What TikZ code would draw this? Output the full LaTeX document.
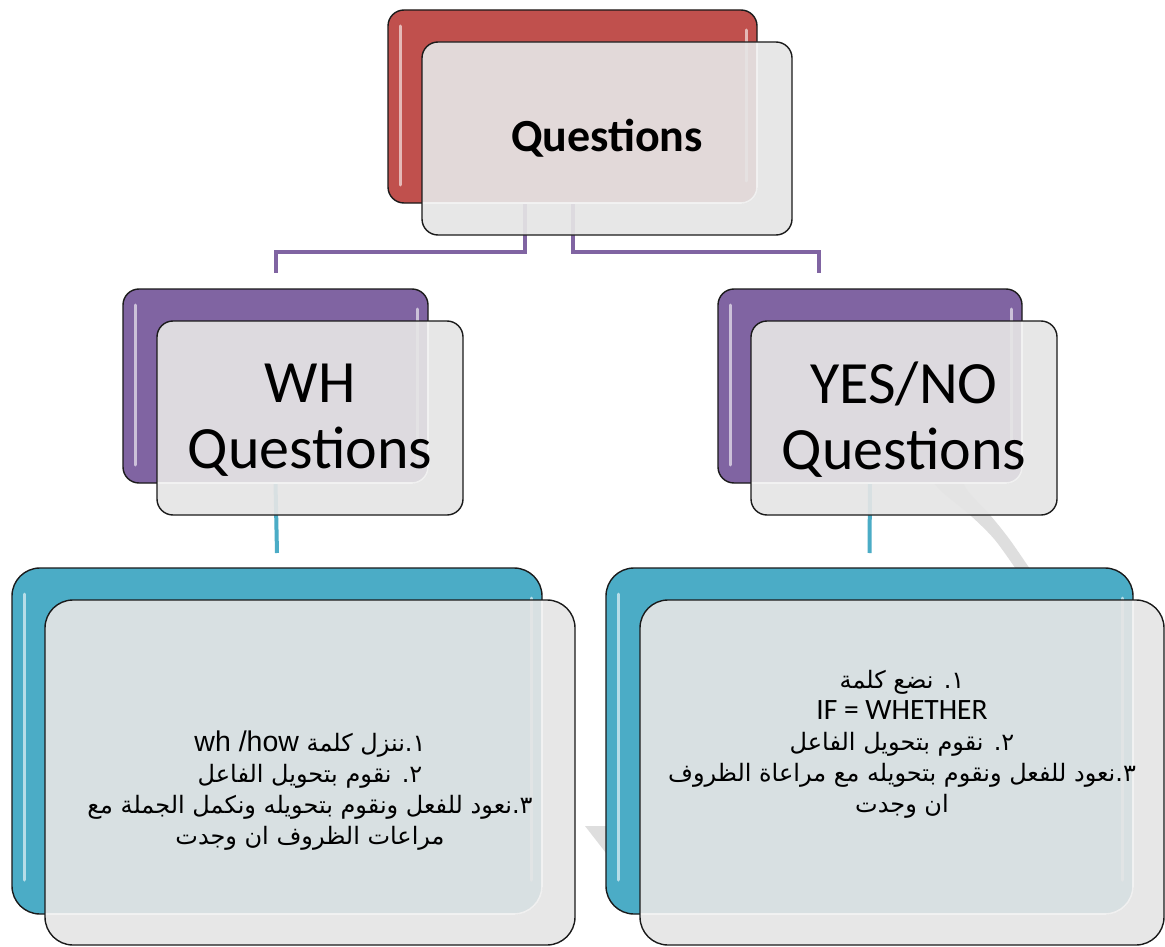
\documentclass[tikz,border=0pt]{standalone}
\usepackage{fontspec}
\setmainfont{Carlito}
\newfontfamily\arabicfont[Script=Arabic]{DejaVu Sans}
\newfontfamily\latinfont{Liberation Sans}
\TeXXeTstate=1
\usetikzlibrary{calc}
\definecolor{qred}{HTML}{C0504D}
\definecolor{qpurple}{HTML}{8064A2}
\definecolor{qteal}{HTML}{4BACC6}
\definecolor{frontgray}{HTML}{E5E5E5}
\definecolor{swooshgray}{HTML}{DEDEDE}
\definecolor{outlinec}{HTML}{1A1A1A}
\tikzset{
  backbox/.style={rectangle, draw=outlinec, line width=1.4pt, inner sep=0pt, outer sep=0pt},
  frontbox/.style={rectangle, fill=frontgray, fill opacity=0.92, text opacity=1, inner sep=0pt, outer sep=0pt},
  frontline/.style={draw=outlinec, line width=1.4pt},
  gloss/.style={white, opacity=0.6, line width=3pt, line cap=round},
  seam/.style={white, opacity=0.65, line width=1.6pt},
  purpline/.style={qpurple, line width=4pt},
  tealline/.style={qteal, line width=4pt},
  midtext/.style={font=\fontsize{60}{66}\selectfont, align=center, inner sep=0pt},
  artext/.style={font=\arabicfont\fontsize{24}{31}\selectfont, align=center, inner sep=0pt},
}
\begin{document}
\begin{tikzpicture}[x=1pt,y=-1pt]
\useasboundingbox (0,0) rectangle (1165,947);
\fill[white] (0,0) rectangle (1165,947);

% background swoosh
\fill[swooshgray] plot[smooth] coordinates {(926,472) (940,490) (970,515) (995,540) (1020,575)}
  -- plot[smooth] coordinates {(1034,575) (1010,540) (990,515) (967,490) (958,470)} -- cycle;
\fill[swooshgray] (585,826) -- (606,826) -- (606,853) -- cycle;

% back boxes
\node[backbox, fill=qred, rounded corners=16pt, minimum width=369pt, minimum height=193pt] (qb) at (572.5,106.5) {};
\node[backbox, fill=qpurple, rounded corners=16pt, minimum width=305pt, minimum height=194pt] (wb) at (275.5,386) {};
\node[backbox, fill=qpurple, rounded corners=16pt, minimum width=304pt, minimum height=194pt] (yb) at (870,386) {};
\node[backbox, fill=qteal, rounded corners=28pt, minimum width=530pt, minimum height=346pt] (lb) at (277,741) {};
\node[backbox, fill=qteal, rounded corners=28pt, minimum width=527pt, minimum height=346pt] (rb) at (869.5,741) {};

% gloss highlights
\foreach \b in {qb,wb,yb}{
  \draw[gloss] ($(\b.north west)+(12,16)$) -- ($(\b.south west)+(12,-18)$);
  \draw[gloss] ($(\b.north east)+(-11,20)$) -- ($(\b.south east)+(-11,-22)$);
}
\foreach \b in {lb,rb}{
  \draw[gloss] ($(\b.north west)+(12,26)$) -- ($(\b.south west)+(12,-34)$);
  \draw[gloss] ($(\b.north east)+(-11,30)$) -- ($(\b.south east)+(-11,-34)$);
}

% connectors
\coordinate (qbl) at ($(qb.south)+(-48,0)$);
\draw[purpline] (qbl) -- ++(0,49) -| ($(wb.north)+(0,-16)$);
\draw[purpline] (qb.south) -- ++(0,49) -| ($(yb.north)+(-51,-16)$);
\draw[tealline] (wb.south) -- ($(lb.north)+(0,-15)$);
\draw[tealline] (yb.south) -- ($(rb.north)+(0,-15)$);

% front boxes
\foreach \f/\b/\cx/\cy/\w/\h/\r in {qf/qb/607/138.5/370/193/16, wf/wb/310/418/306/194/16, yf/yb/904/418/306/194/16, lf/lb/310/772.5/530/345/28, rf/rb/902/772.5/524/345/28}{
  \node[frontbox, rounded corners=\r pt, minimum width=\w pt, minimum height=\h pt] (\f) at (\cx,\cy) {};
  \begin{scope}
    \clip[rounded corners=\r pt] (\f.north west) rectangle (\f.south east);
    \draw[seam, rounded corners=\r pt] (\b.north west) rectangle (\b.south east);
  \end{scope}
  \draw[frontline, rounded corners=\r pt] (\f.north west) rectangle (\f.south east);
}

% texts
\node[font=\bfseries\fontsize{46}{50}\selectfont, anchor=base, inner sep=0pt] (qt) at ($(qf.center)+(0,13.5)$) {Questions};
\node[midtext] (wt) at ($(wf.center)+(0,2)$) {WH\\Questions};
\node[midtext] (yt) at ($(yf.center)+(0,2)$) {YES/NO\\Questions};

\node[artext] (lt) at (310,791) {%
\beginR ١.ننزل كلمة \beginL{\latinfont\fontsize{28.5}{31}\selectfont wh /how}\endL\endR\\
\beginR ٢. نقوم بتحويل الفاعل\endR\\
\beginR ٣.نعود للفعل ونقوم بتحويله ونكمل الجملة مع\endR\\
\beginR مراعات الظروف ان وجدت\endR};

\node[artext] (rt) at (902,744) {%
\beginR ١. نضع كلمة\endR\\
{\rmfamily\fontsize{29.5}{31}\selectfont IF = WHETHER}\\
\beginR ٢. نقوم بتحويل الفاعل\endR\\
\beginR ٣.نعود للفعل ونقوم بتحويله مع مراعاة الظروف\endR\\
\beginR ان وجدت\endR};
\end{tikzpicture}
\end{document}
